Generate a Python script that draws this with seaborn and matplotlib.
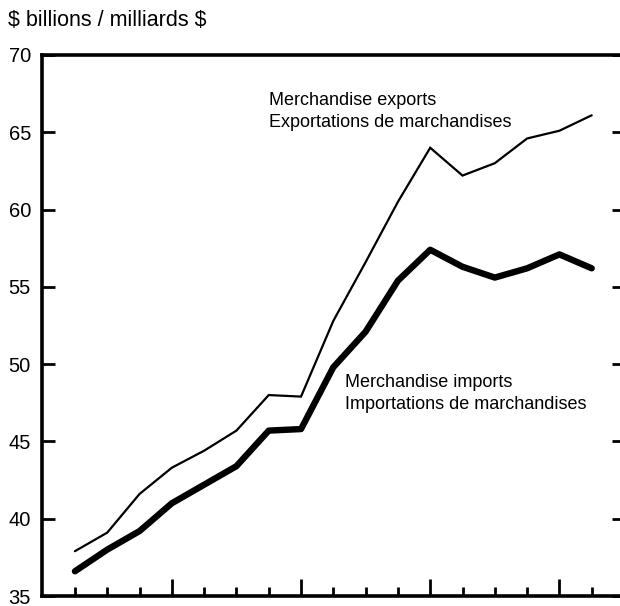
import matplotlib
matplotlib.use("Agg")
import matplotlib.pyplot as plt
import seaborn as sns
import pandas as pd

# quarterly values, $ billions
quarters = list(range(17))
exports = [37.9, 39.1, 41.6, 43.3, 44.4, 45.7, 48.0, 47.9, 52.8, 56.6,
           60.5, 64.0, 62.2, 63.0, 64.6, 65.1, 66.1]
imports = [36.6, 38.0, 39.2, 41.0, 42.2, 43.4, 45.7, 45.8, 49.8, 52.1,
           55.4, 57.4, 56.3, 55.6, 56.2, 57.1, 56.2]
y_ticks = [35, 40, 45, 50, 55, 60, 65, 70]

sns.set_style("ticks", {"axes.edgecolor": "black", "text.color": "black",
                        "xtick.color": "black", "ytick.color": "black"})
plt.rcParams['font.family'] = ['Liberation Sans', 'DejaVu Sans']

df = pd.DataFrame({"q": quarters, "exports": exports, "imports": imports})

fig = plt.figure(figsize=(6.2, 6.06), dpi=100)
ax = fig.add_axes([42 / 620, 1 - 596 / 606, 582 / 620, 541 / 606])

sns.lineplot(data=df, x="q", y="exports", ax=ax, color="black", lw=1.6,
             solid_joinstyle="miter")
sns.lineplot(data=df, x="q", y="imports", ax=ax, color="black", lw=4.6,
             solid_capstyle="round", solid_joinstyle="round")

ax.set_xlim(-1.02, 17)
ax.set_ylim(35, 70)
ax.set_yticks(y_ticks)
ax.set_xticks([3, 7, 11, 15])
ax.set_xticks([q for q in quarters if q not in (3, 7, 11, 15)], minor=True)
ax.set_xticklabels([])
ax.set_xlabel("")
ax.set_ylabel("")

for s in ax.spines.values():
    s.set_linewidth(2.6)
    s.set_color("black")
    s.set_visible(True)

ax.tick_params(axis="y", which="major", direction="in", length=9, width=2,
               labelsize=14.5, pad=8, left=True, right=True,
               colors="black", labelcolor="black")
ax.tick_params(axis="x", which="major", direction="in", length=12.5, width=2,
               colors="black")
ax.tick_params(axis="x", which="minor", direction="in", length=6.5, width=2,
               colors="black")

ax.text(6.0, 66.35, "Merchandise exports\nExportations de marchandises",
        fontsize=13, va="center", ha="left", linespacing=1.35, color="black")
ax.text(8.36, 48.1, "Merchandise imports\nImportations de marchandises",
        fontsize=13, va="center", ha="left", linespacing=1.35, color="black")

fig.text(8 / 620, 1 - 20 / 606, r"\$ billions / milliards \$", fontsize=15.5,
         va="center", ha="left", color="black")

fig.savefig("out.png", dpi=100)
